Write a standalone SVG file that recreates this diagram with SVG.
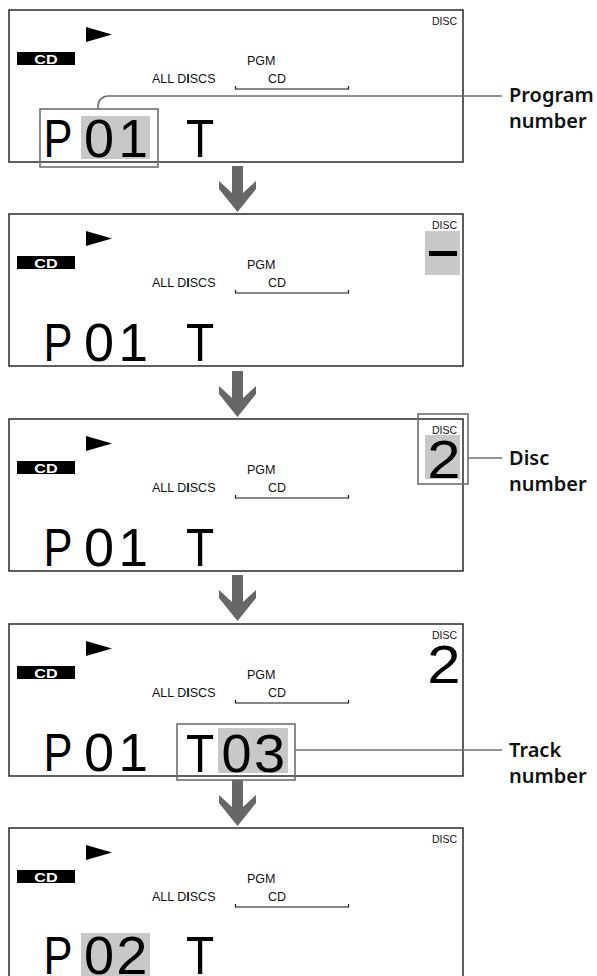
<svg xmlns="http://www.w3.org/2000/svg" width="597" height="976" viewBox="0 0 597 976">
<style>
.panel{fill:#fff;stroke:#1a1a1a;stroke-width:1.4}
.sm{font-family:"Liberation Sans",Arial,sans-serif;font-size:12.5px;fill:#111}
.disc{font-family:"Liberation Sans",Arial,sans-serif;font-size:10.5px;fill:#111}
.badge{font-family:"Liberation Sans",Arial,sans-serif;font-size:13.5px;font-weight:bold;fill:#fff}
.lcd{font-family:"Liberation Sans",Arial,sans-serif;font-size:53px;fill:#000}
.hl{fill:#c8c8c8}
.call{fill:none;stroke:#6e6e6e;stroke-width:1.6}
.lead{fill:none;stroke:#6e6e6e;stroke-width:1.6}
.arrow{fill:#676767}
.lbl{font-family:"Noto Sans","Open Sans",sans-serif;font-size:20px;font-weight:600;fill:#111}
.br{fill:none;stroke:#111;stroke-width:1.2}
</style>
<defs>
<g id="base">
<rect class="panel" x="9" y="0" width="454" height="152"/>
<polygon points="86,17 112,24.5 86,32" fill="#000"/>
<rect x="17" y="42" width="58" height="13" fill="#000"/>
<text class="badge" text-anchor="middle" transform="translate(46,53.5) scale(1.2,1)">CD</text>
<text class="sm" x="247" y="55">PGM</text>
<text class="sm" x="152" y="73">ALL D<tspan font-weight="bold">I</tspan>SCS</text>
<text class="sm" x="268" y="73">CD</text>
<path class="br" d="M235.5,76 V79 H348.5 V76"/>
<text class="disc" x="432" y="15">DISC</text>
</g>
<polygon id="arr" class="arrow" points="232,0 243,0 243,27 256,15 256,23 237.5,46 219,23 219,15 232,27"/>
</defs>

<g id="panel1" transform="translate(0,10)">
<use href="#base"/>
<rect class="hl" x="81" y="106" width="69" height="43"/>
<text class="lcd" transform="translate(43.6,147) scale(0.82,1)">P</text>
<text class="lcd" transform="translate(84,147) scale(1.02,1)">0</text>
<text class="lcd" transform="translate(118.5,147)">1</text>
<text class="lcd" transform="translate(186,147) scale(0.87,1)">T</text>
<rect class="call" x="40" y="99" width="118" height="58"/>
</g>

<g id="panel2" transform="translate(0,214)">
<use href="#base"/>
<rect class="hl" x="425" y="17" width="35" height="44"/>
<rect x="429" y="37" width="28" height="5" fill="#000"/>
<text class="lcd" transform="translate(43.6,147) scale(0.82,1)">P</text>
<text class="lcd" transform="translate(84,147) scale(1.02,1)">0</text>
<text class="lcd" transform="translate(118.5,147)">1</text>
<text class="lcd" transform="translate(186,147) scale(0.87,1)">T</text>
</g>

<g id="panel3" transform="translate(0,419)">
<use href="#base"/>
<rect class="hl" x="425" y="16" width="35" height="44"/>
<text class="lcd" transform="translate(427.2,58.5) scale(1.13,1)">2</text>
<rect class="call" x="418" y="-5" width="50" height="70"/>
<text class="lcd" transform="translate(43.6,147) scale(0.82,1)">P</text>
<text class="lcd" transform="translate(84,147) scale(1.02,1)">0</text>
<text class="lcd" transform="translate(118.5,147)">1</text>
<text class="lcd" transform="translate(186,147) scale(0.87,1)">T</text>
</g>

<g id="panel4" transform="translate(0,624)">
<use href="#base"/>
<text class="lcd" transform="translate(427.2,58.5) scale(1.13,1)">2</text>
<rect class="hl" x="218" y="104" width="70" height="45"/>
<text class="lcd" transform="translate(43.6,147) scale(0.82,1)">P</text>
<text class="lcd" transform="translate(84,147) scale(1.02,1)">0</text>
<text class="lcd" transform="translate(118.5,147)">1</text>
<text class="lcd" transform="translate(186,147.5) scale(0.87,1)">T</text>
<text class="lcd" transform="translate(221.5,147.5) scale(1.02,1)">0</text>
<text class="lcd" transform="translate(254,147.5) scale(1.06,1)">3</text>
<rect class="call" x="177" y="100" width="118" height="56"/>
</g>

<g id="panel5" transform="translate(0,828)">
<use href="#base"/>
<rect class="hl" x="81" y="105" width="69" height="44"/>
<text class="lcd" transform="translate(43.6,146) scale(0.82,1)">P</text>
<text class="lcd" transform="translate(84,146) scale(1.02,1)">0</text>
<text class="lcd" transform="translate(116.3,146) scale(1.06,1)">2</text>
<text class="lcd" transform="translate(186,146) scale(0.87,1)">T</text>
</g>

<g id="connectors">
<use href="#arr" transform="translate(0,166)"/>
<use href="#arr" transform="translate(0,371)"/>
<use href="#arr" transform="translate(0,575)"/>
<use href="#arr" transform="translate(0,780)"/>
<path class="lead" d="M98,109 V106 A10,10 0 0 1 108,96 H502"/>
<path class="lead" d="M468,458 H502"/>
<path class="lead" d="M295,750 H502"/>
</g>

<g id="label-program">
<text class="lbl" x="509" y="102">Program</text>
<text class="lbl" x="509" y="128">number</text>
</g>
<g id="label-disc">
<text class="lbl" x="509" y="465">Disc</text>
<text class="lbl" x="509" y="491">number</text>
</g>
<g id="label-track">
<text class="lbl" x="509" y="757">Track</text>
<text class="lbl" x="509" y="783">number</text>
</g>
</svg>
